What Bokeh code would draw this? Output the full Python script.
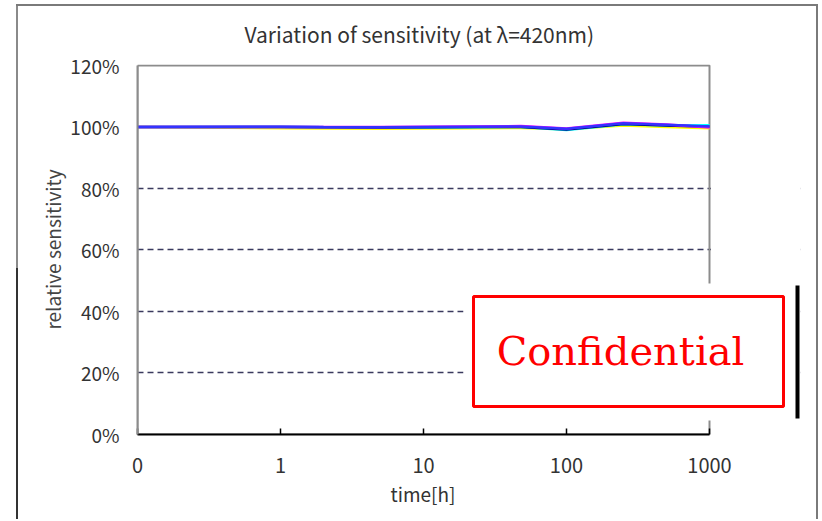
import math
from bokeh.plotting import figure
from bokeh.models import FixedTicker, PrintfTickFormatter, BoxAnnotation, Label, Range1d, Title
from bokeh.embed import file_html
from bokeh.resources import INLINE

# ---- data ----
times = [0, 1, 2, 5, 10, 24, 48, 100, 250, 500, 1000]
series_navy = [100, 100, 99.9, 99.8, 99.9, 100.0, 100.0, 99.2, 101.0, 100.5, 100.1]
series_magenta = [100, 100, 100.0, 100.0, 100.1, 100.2, 100.3, 99.5, 101.4, 100.8, 99.8]
series_yellow = [100, 99.6, 99.5, 99.4, 99.5, 99.6, 99.7, 99.3, 100.5, 100.0, 99.6]
series_cyan = [100, 100, 99.9, 99.8, 99.8, 99.9, 100.0, 99.0, 100.9, 100.5, 100.6]
series_blue = [100, 100.1, 100.0, 99.9, 100.0, 100.1, 100.2, 99.4, 101.2, 100.7, 100.2]
x_tick_labels = ["0", "1", "10", "100", "1000"]
y_ticks = [0, 20, 40, 60, 80, 100, 120]
grid_ticks = [20, 40, 60, 80]

FONT = "Noto Sans CJK JP"

def pos(t):
    return 0.0 if t == 0 else math.log10(t) + 1.0

xs = [pos(t) for t in times]

# ---- layout (pixels) ----
W, H = 820, 519
FL, FR, FT, FB = 137, 800, 63, 434        # frame edges
AXIS_R, AXIS_T = 709, 64                  # where the axes end
X_MAX = len(x_tick_labels) - 1
Y_MAX = y_ticks[-1]
x_end = X_MAX * (FR - FL) / (AXIS_R - FL)
y_end = Y_MAX * (FB - FT) / (FB - AXIS_T)

p = figure(width=W, height=H, output_backend="svg", toolbar_location=None,
           x_range=Range1d(0, x_end), y_range=Range1d(0, y_end),
           min_border_left=FL, min_border_right=W - FR,
           min_border_top=FT, min_border_bottom=H - FB,
           title="Variation of sensitivity (at \u03bb=420nm)")

# outer chart border (top / right / left, the left one darker in its lower half)
p.stylesheets = [
    ":host::after {content: ''; position: absolute; left: 16px; top: 4px; "
    "width: 800px; height: 513px; border-top: 2px solid #7a7a7a; "
    "border-right: 2px solid #7a7a7a; "
    "background: linear-gradient(to bottom, #8a8a8a 0px, #8a8a8a 262px, "
    "#333333 262px, #333333 100%) no-repeat 0 0 / 2px 100%; "
    "z-index: 2; pointer-events: none;}"
]

p.title.align = "left"
p.title.offset = 244 - FL
p.title.text_font = FONT
p.title.text_font_size = "21px"
p.title.text_font_style = "normal"
p.title.text_color = "#333333"
p.title.standoff = 32

p.outline_line_color = None

# grid
p.xgrid.visible = False
p.ygrid.ticker = FixedTicker(ticks=grid_ticks)
p.ygrid.grid_line_color = "#3a3a5e"
p.ygrid.grid_line_width = 1.5
p.ygrid.grid_line_dash = "6 4"

# plot-area border (left/top/right), under the data
p.add_layout(BoxAnnotation(left=0, right=X_MAX, bottom=0, top=Y_MAX,
                           fill_alpha=0, line_color="#8c8c8c", line_alpha=1,
                           line_width=2, level="underlay"))

# x axis
xa = p.xaxis[0]
xa.bounds = (0, X_MAX)
xa.ticker = FixedTicker(ticks=list(range(len(x_tick_labels))))
xa.major_label_overrides = {i: s for i, s in enumerate(x_tick_labels)}
xa.major_tick_in = 6
xa.major_tick_out = 0
xa.minor_tick_in = 0
xa.minor_tick_out = 0
xa.axis_line_color = "#000000"
xa.axis_line_width = 2
xa.major_tick_line_color = "#000000"
xa.major_tick_line_width = 1.5
xa.major_label_standoff = 23
xa.major_label_text_font = FONT
xa.major_label_text_font_size = "20px"
xa.major_label_text_color = "#333333"

# x axis title, placed under the axis span (0..1000)
p.add_layout(Title(text="time[h]", align="left", offset=390 - FL, standoff=4,
                   text_font=FONT, text_font_size="19px", text_font_style="normal",
                   text_color="#333333"), "below")

# y axis
ya = p.yaxis[0]
ya.bounds = (0, Y_MAX)
ya.ticker = FixedTicker(ticks=y_ticks)
ya.formatter = PrintfTickFormatter(format="%d%%")
ya.major_tick_in = 0
ya.major_tick_out = 0
ya.minor_tick_in = 0
ya.minor_tick_out = 0
ya.axis_line_color = "#8c8c8c"
ya.axis_line_width = 2
ya.major_label_standoff = 18
ya.major_label_text_font = FONT
ya.major_label_text_font_size = "19px"
ya.major_label_text_color = "#333333"
ya.axis_label = "relative sensitivity"
ya.axis_label_text_font = FONT
ya.axis_label_text_font_size = "19px"
ya.axis_label_text_font_style = "normal"
ya.axis_label_text_color = "#444444"
ya.axis_label_standoff = 1

# data lines
for vals, col in [(series_yellow, "#ffff00"), (series_cyan, "#00ffff"),
                  (series_navy, "#000080"), (series_magenta, "#ff00ff"),
                  (series_blue, "#3333ff")]:
    p.line(xs, vals, line_color=col, line_width=2.5)

# ---- cover + "Confidential" stamp (screen units: from frame left, up from frame bottom) ----
def sbox(l, r, t, b, **kw):
    return BoxAnnotation(left=l - FL, right=r - FL, top=FB - t, bottom=FB - b,
                         left_units="screen", right_units="screen",
                         top_units="screen", bottom_units="screen", **kw)

# blank the area right of the plot area
p.add_layout(sbox(AXIS_R + 1.5, FR + 6, FT - 2, FB + 2, fill_color="white", fill_alpha=1, line_alpha=0))
p.add_layout(sbox(463, 795, 283, 420, fill_color="white", fill_alpha=1, line_alpha=0))
p.add_layout(sbox(795, 799, 285, 418, fill_color="black", fill_alpha=1, line_alpha=0))
p.add_layout(sbox(473, 783, 296, 406, fill_color="white", fill_alpha=1,
                  line_color="#ff0000", line_alpha=1, line_width=3))
p.add_layout(Label(x=620 - FL, y=FB - 350, x_units="screen", y_units="screen",
                   text="Confidential", text_font="DejaVu Serif",
                   text_font_size="40px", text_color="#ff0000",
                   text_align="center", text_baseline="middle"))

open("out.html", "w").write(file_html(p, INLINE))
